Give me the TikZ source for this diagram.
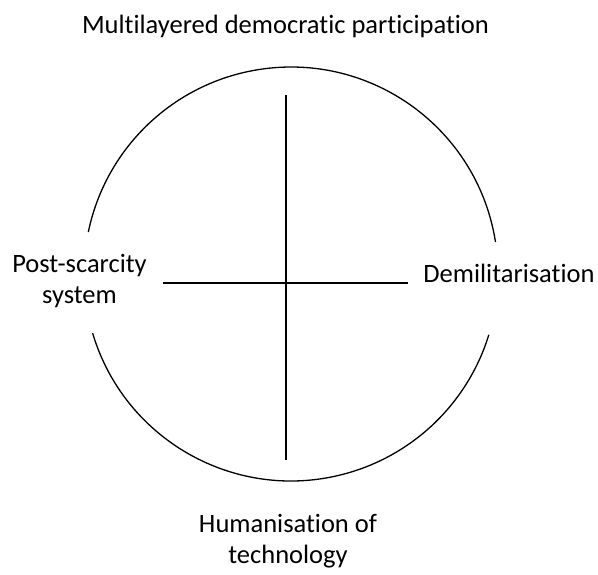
\documentclass[tikz,border=0pt]{standalone}
\usepackage{fontspec}
\setmainfont{Carlito}[Ligatures=NoCommon]
\begin{document}
\begin{tikzpicture}[x=1pt,y=-1pt,
  lbl/.style={inner sep=0pt,anchor=base,align=center,font=\fontsize{26.5}{31}\selectfont},
  ln/.style={line width=1.3pt,black}]
\useasboundingbox (0,0) rectangle (598,574);
% circle centre (291,274), r=207pt (pixel y downward)
\coordinate (a1) at (495.5,242.0);
\coordinate (a2) at (92.6,333.1);
\draw[ln] (a1) arc[start angle=8.9,end angle=168.3,radius=207pt];
\draw[ln] (a2) arc[start angle=196.6,end angle=342.9,radius=207pt];
\coordinate (vt) at (286,95);
\coordinate (vb) at (286,460);
\coordinate (hl) at (163,283);
\coordinate (hr) at (408,283);
\draw[ln] (vt) -- (vb);
\draw[ln] (hl) -- (hr);
\node[lbl] (top) at (285.5,33) {Multilayered democratic participation};
\node[lbl] (left) at (79.5,303) {Post-scarcity\\system};
\node[lbl] (right) at (509,282) {Demilitarisation};
\node[lbl] (bottom) at (288,563) {Humanisation of\\technology};
\end{tikzpicture}
\end{document}
